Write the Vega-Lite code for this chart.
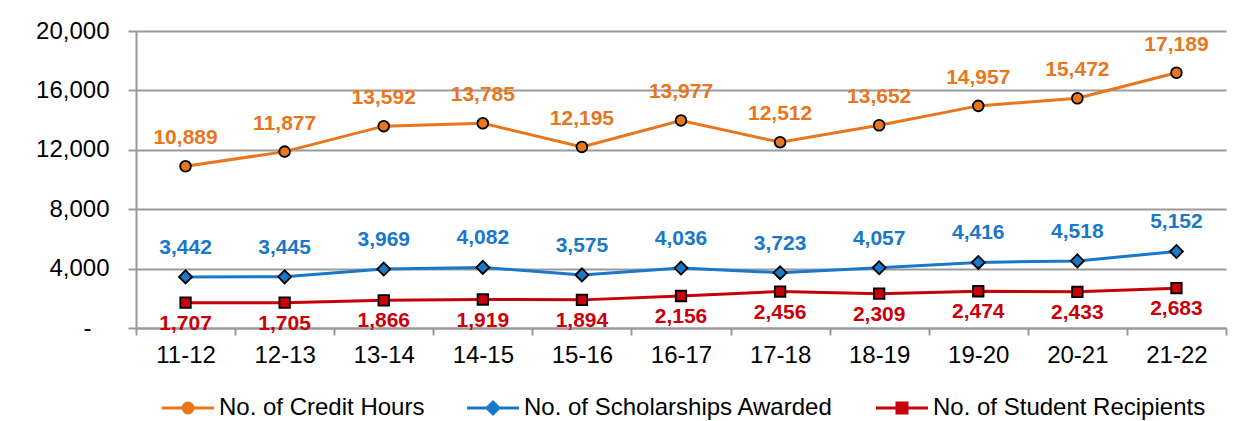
{
  "$schema": "https://vega.github.io/schema/vega-lite/v6.json",
  "autosize": "none",
  "width": 1090,
  "height": 297,
  "padding": {"left": 136, "top": 31, "right": 30, "bottom": 93},
  "background": "white",
  "config": {
    "font": "Liberation Sans",
    "view": {"stroke": null}
  },
  "data": {
    "values": [
      {"year": "11-12", "series": "No. of Credit Hours", "value": 10889},
      {"year": "12-13", "series": "No. of Credit Hours", "value": 11877},
      {"year": "13-14", "series": "No. of Credit Hours", "value": 13592},
      {"year": "14-15", "series": "No. of Credit Hours", "value": 13785},
      {"year": "15-16", "series": "No. of Credit Hours", "value": 12195},
      {"year": "16-17", "series": "No. of Credit Hours", "value": 13977},
      {"year": "17-18", "series": "No. of Credit Hours", "value": 12512},
      {"year": "18-19", "series": "No. of Credit Hours", "value": 13652},
      {"year": "19-20", "series": "No. of Credit Hours", "value": 14957},
      {"year": "20-21", "series": "No. of Credit Hours", "value": 15472},
      {"year": "21-22", "series": "No. of Credit Hours", "value": 17189},
      {"year": "11-12", "series": "No. of Scholarships Awarded", "value": 3442},
      {"year": "12-13", "series": "No. of Scholarships Awarded", "value": 3445},
      {"year": "13-14", "series": "No. of Scholarships Awarded", "value": 3969},
      {"year": "14-15", "series": "No. of Scholarships Awarded", "value": 4082},
      {"year": "15-16", "series": "No. of Scholarships Awarded", "value": 3575},
      {"year": "16-17", "series": "No. of Scholarships Awarded", "value": 4036},
      {"year": "17-18", "series": "No. of Scholarships Awarded", "value": 3723},
      {"year": "18-19", "series": "No. of Scholarships Awarded", "value": 4057},
      {"year": "19-20", "series": "No. of Scholarships Awarded", "value": 4416},
      {"year": "20-21", "series": "No. of Scholarships Awarded", "value": 4518},
      {"year": "21-22", "series": "No. of Scholarships Awarded", "value": 5152},
      {"year": "11-12", "series": "No. of Student Recipients", "value": 1707},
      {"year": "12-13", "series": "No. of Student Recipients", "value": 1705},
      {"year": "13-14", "series": "No. of Student Recipients", "value": 1866},
      {"year": "14-15", "series": "No. of Student Recipients", "value": 1919},
      {"year": "15-16", "series": "No. of Student Recipients", "value": 1894},
      {"year": "16-17", "series": "No. of Student Recipients", "value": 2156},
      {"year": "17-18", "series": "No. of Student Recipients", "value": 2456},
      {"year": "18-19", "series": "No. of Student Recipients", "value": 2309},
      {"year": "19-20", "series": "No. of Student Recipients", "value": 2474},
      {"year": "20-21", "series": "No. of Student Recipients", "value": 2433},
      {"year": "21-22", "series": "No. of Student Recipients", "value": 2683}
    ]
  },
  "encoding": {
    "x": {
      "field": "year",
      "type": "nominal",
      "sort": null,
      "scale": {"paddingInner": 0, "paddingOuter": 0},
      "axis": {
        "title": null,
        "labelAngle": 0,
        "labelFontSize": 24,
        "labelColor": "#000000",
        "labelPadding": 8,
        "domainColor": "#9a9a9a",
        "domainWidth": 2,
        "tickColor": "#9a9a9a",
        "tickWidth": 2,
        "tickSize": 7,
        "tickBand": "extent",
        "grid": false
      }
    },
    "y": {
      "field": "value",
      "type": "quantitative",
      "scale": {"domain": [0, 20000], "nice": false},
      "axis": {
        "title": null,
        "values": [0, 4000, 8000, 12000, 16000, 20000],
        "labelExpr": "datum.value == 0 ? '-\u2800' : format(datum.value, ',')",
        "labelFontSize": 24,
        "labelColor": "#000000",
        "labelPadding": 19,
        "domainColor": "#9a9a9a",
        "domainWidth": 2,
        "tickColor": "#9a9a9a",
        "tickWidth": 2,
        "tickSize": 8,
        "grid": true,
        "gridColor": "#9a9a9a",
        "gridWidth": 2
      }
    },
    "color": {
      "field": "series",
      "type": "nominal",
      "scale": {
        "domain": ["No. of Credit Hours", "No. of Scholarships Awarded", "No. of Student Recipients"],
        "range": ["#E8761E", "#1A78C8", "#C8000A"]
      },
      "legend": {
        "title": null,
        "orient": "none",
        "direction": "horizontal",
        "legendX": 40,
        "legendY": 365,
        "padding": 0,
        "labelFontSize": 24,
        "labelColor": "#000000",
        "labelLimit": 500,
        "labelOffset": 19,
        "columnPadding": 36,
        "symbolSize": 100,
        "symbolStrokeWidth": 3,
        "encode": {
          "symbols": {
            "update": {
              "shape": {"signal": "datum.value === 'No. of Credit Hours' ? 'M-5.2,0H-1M1,0H5.2M-1,0A1,1 0 1,0 1,0A1,1 0 1,0 -1,0Z' : datum.value === 'No. of Scholarships Awarded' ? 'M-5.2,0H-1.2M1.2,0H5.2M0,-1.2L1.2,0L0,1.2L-1.2,0Z' : 'M-5.2,0H-1M1,0H5.2M-1,-1H1V1H-1Z'"},
              "fill": {"scale": "color", "field": "value"},
              "stroke": {"scale": "color", "field": "value"},
              "strokeWidth": {"value": 3},
              "opacity": {"value": 1}
            }
          }
        }
      }
    }
  },
  "layer": [
    {
      "mark": {"type": "line", "strokeWidth": 3}
    },
    {
      "transform": [{"filter": "datum.series === 'No. of Credit Hours'"}],
      "mark": {"type": "point", "shape": "circle", "filled": true, "stroke": "#000000", "strokeWidth": 1.8, "opacity": 1, "size": 115}
    },
    {
      "transform": [{"filter": "datum.series === 'No. of Scholarships Awarded'"}],
      "mark": {"type": "point", "shape": "diamond", "filled": true, "stroke": "#000000", "strokeWidth": 1.8, "opacity": 1, "size": 170}
    },
    {
      "transform": [{"filter": "datum.series === 'No. of Student Recipients'"}],
      "mark": {"type": "point", "shape": "square", "filled": true, "stroke": "#000000", "strokeWidth": 1.8, "opacity": 1, "size": 110}
    },
    {
      "transform": [{"filter": "datum.series === 'No. of Credit Hours'"}],
      "mark": {"type": "text", "fontSize": 21, "fontWeight": "bold", "dy": -28},
      "encoding": {"text": {"field": "value", "type": "quantitative", "format": ","}}
    },
    {
      "transform": [{"filter": "datum.series === 'No. of Scholarships Awarded'"}],
      "mark": {"type": "text", "fontSize": 21, "fontWeight": "bold", "dy": -29},
      "encoding": {"text": {"field": "value", "type": "quantitative", "format": ","}}
    },
    {
      "transform": [{"filter": "datum.series === 'No. of Student Recipients'"}],
      "mark": {"type": "text", "fontSize": 21, "fontWeight": "bold", "dy": 21},
      "encoding": {"text": {"field": "value", "type": "quantitative", "format": ","}}
    }
  ]
}
